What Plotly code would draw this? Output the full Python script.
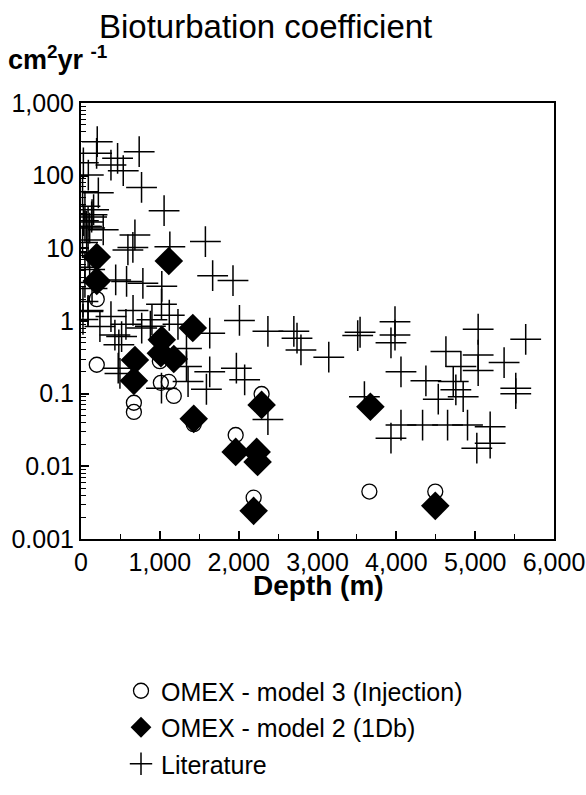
import plotly.graph_objects as go

# ---------------- data ----------------
inj_depth = [200, 200, 671, 671, 1013, 1114, 1177, 1000, 1430, 1962, 2291, 2228, 2190, 3658, 4494]
inj_db = [2.0, 0.25, 0.075, 0.056, 0.141, 0.145, 0.093, 0.28, 0.038, 0.027, 0.099, 0.0112, 0.0037, 0.0045, 0.0045]

db1_depth = [200, 200, 1114, 1418, 1025, 1013, 1177, 684, 671, 1430, 1962, 2228, 2240, 2291, 2190, 3671, 4494]
db1_db = [7.6, 3.56, 6.7, 0.80, 0.55, 0.36, 0.30, 0.29, 0.15, 0.045, 0.0158, 0.0158, 0.0115, 0.070, 0.00244, 0.066, 0.00286]

lit_depth = [
    206, 198, 464, 738, 380, 536, 93, 768, 220, 1054, 50, 160, 135, 90, 70, 282, 684,
    595, 658, 1127, 1578, 72, 1670, 1928, 440, 578, 785, 1025, 1021, 2010, 2371,
    2700, 2740, 2790, 1633, 380, 240, 660, 900, 1120, 88, 570, 770, 880, 1230, 430,
    515, 480, 472, 494, 1338, 1338, 1358, 1633, 1591, 1971, 2076, 1021, 2371,
    50, 110, 20, 90, 50, 110, 50, 140, 25, 90, 25, 30, 20, 30, 140,
    3143, 3510, 3540, 3983, 3983, 3932, 3595, 4059, 3932, 4059, 4333, 4375, 4629,
    4532, 4722, 4755, 4848, 4819, 4650, 4903, 5038, 5038, 5038, 5021, 5190, 5190,
    5367, 5515, 5515, 5641,
]
lit_db = [
    294, 203, 173, 214, 140, 117, 102, 69, 58, 33, 38, 34, 27, 23, 20, 18, 15.3,
    9.5, 10.3, 10.5, 12.4, 13, 4.2, 3.6, 3.67, 3.5, 3.3, 3.0, 1.7, 1.02, 0.72,
    0.72, 0.58, 0.40, 0.68, 1.15, 0.84, 1.4, 1.04, 1.2, 1.35, 0.9, 0.8, 0.85, 0.9, 0.64,
    0.61, 0.47, 0.224, 0.19, 0.42, 0.236, 0.147, 0.20, 0.115, 0.224, 0.155, 0.119, 0.044,
    20, 19, 12, 8.7, 5.5, 5.1, 3.4, 2.8, 1.85, 1.4, 1.05, 150, 60, 24, 29,
    0.318, 0.63, 0.70, 0.98, 0.64, 0.50, 0.091, 0.20, 0.0244, 0.037, 0.037, 0.15, 0.38,
    0.084, 0.147, 0.113, 0.091, 0.236, 0.037, 0.037, 0.77, 0.34, 0.208, 0.0178, 0.035, 0.0208,
    0.268, 0.119, 0.10, 0.56,
]

x_tickvals = [0, 1000, 2000, 3000, 4000, 5000, 6000]
x_ticktext = ["0", "1,000", "2,000", "3,000", "4,000", "5,000", "6,000"]
y_tickvals = [0.001, 0.01, 0.1, 1, 10, 100, 1000]
y_ticktext = ["0.001", "0.01", "0.1", "1", "10", "100", "1,000"]

title_text = "Bioturbation coefficient"
y_unit_text = "<b>cm<sup>2</sup>yr <sup>-1</sup></b>"
x_title_text = "<b>Depth (m)</b>"
name_inj = "OMEX - model 3 (Injection)"
name_db = "OMEX - model 2 (1Db)"
name_lit = "Literature"

FONT = "Liberation Sans, Arial, Helvetica, sans-serif"

fig = go.Figure()
fig.add_trace(go.Scatter(
    x=lit_depth, y=lit_db, mode="markers", name=name_lit, legendrank=3, legendgroup="c",
    marker=dict(symbol="cross-thin-open", size=22, color="black", line=dict(color="black", width=1.5)),
))
fig.add_trace(go.Scatter(
    x=inj_depth, y=inj_db, mode="markers", name=name_inj, legendrank=1, legendgroup="a",
    marker=dict(symbol="circle-open", size=15, color="black", line=dict(color="black", width=1.3)),
))
fig.add_trace(go.Scatter(
    x=db1_depth, y=db1_db, mode="markers", name=name_db, legendrank=2, legendgroup="b",
    marker=dict(symbol="diamond", size=22, color="black", line=dict(width=0)),
))

W, H = 586, 795
L, R, T, B = 81, 554, 103, 539

def py(Y):
    return (B - Y) / (B - T)

def px(X):
    return (X - L) / (R - L)

fig.update_layout(
    width=W, height=H,
    margin=dict(l=L, r=W - R, t=T, b=H - B, pad=0, autoexpand=False),
    paper_bgcolor="white", plot_bgcolor="white",
    font=dict(family=FONT, color="black", size=25),
    showlegend=True,
    legend=dict(
        x=px(121), y=py(668), xanchor="left", yanchor="top",
        font=dict(size=25, family=FONT, color="black"),
        tracegroupgap=1, bgcolor="rgba(0,0,0,0)", itemsizing="trace",
    ),
    annotations=[
        dict(text=title_text, x=px(265), y=py(26), xref="paper", yref="paper",
             showarrow=False, font=dict(size=33, family=FONT), xanchor="center", yanchor="middle"),
        dict(text=y_unit_text, x=px(6), y=py(58), xref="paper", yref="paper",
             showarrow=False, font=dict(size=27, family=FONT), xanchor="left", yanchor="middle"),
        dict(text=x_title_text, x=px(318), y=py(585), xref="paper", yref="paper",
             showarrow=False, font=dict(size=28, family=FONT), xanchor="center", yanchor="middle"),
    ],
)

fig.update_xaxes(
    range=[0, 6000], tickvals=x_tickvals, ticktext=x_ticktext, automargin=False,
    ticks="inside", ticklen=8, tickwidth=1.5, tickcolor="black",
    showline=True, linecolor="black", linewidth=2, mirror=True,
    showgrid=False, zeroline=False,
    tickfont=dict(size=25, family=FONT),
    minor=dict(ticks="inside", ticklen=5, tickwidth=1, tickcolor="black", dtick=500, showgrid=False),
)
fig.update_yaxes(
    type="log", range=[-3, 3], tickvals=y_tickvals, ticktext=y_ticktext, automargin=False,
    ticks="inside", ticklen=8, tickwidth=1.5, tickcolor="black",
    showline=True, linecolor="black", linewidth=2, mirror=True,
    showgrid=False, zeroline=False,
    tickfont=dict(size=25, family=FONT),
    minor=dict(ticks="inside", ticklen=5, tickwidth=1, tickcolor="black", dtick="D1", showgrid=False),
)

fig.write_html(
    "out.html",
    config={"displayModeBar": False},
    post_script="document.body.style.margin='0';document.body.style.overflow='hidden';",
)
